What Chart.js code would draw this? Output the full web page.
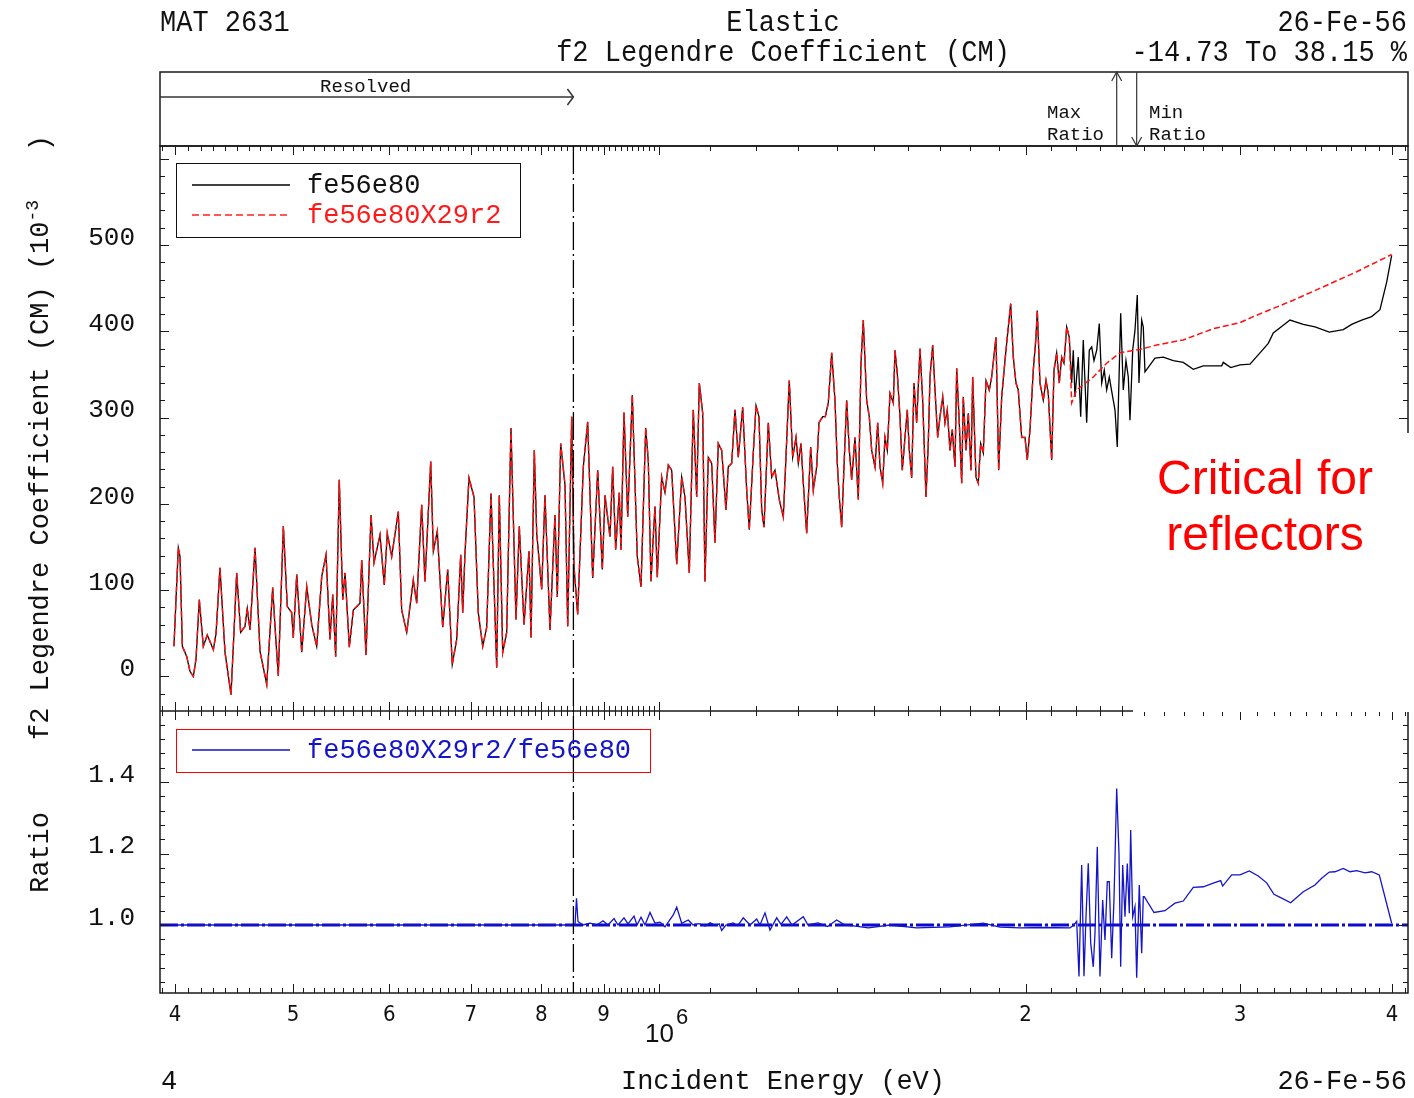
<!DOCTYPE html>
<html>
<head>
<meta charset="utf-8">
<script src="https://cdn.jsdelivr.net/npm/chart.js@4.4.1/dist/chart.umd.min.js"></script>
<style>
html,body{margin:0;padding:0;background:#fff;}
#wrap{position:relative;width:1414px;height:1098px;overflow:hidden;background:#fff;}
#c{position:absolute;left:0;top:0;}
.t{position:absolute;font-family:'Liberation Mono','DejaVu Sans Mono',monospace;color:#111;white-space:pre;line-height:1;font-size:27px;}
.big{transform:scale(1,1.08);}
.small{font-size:19px;}
sup{font-size:18px;line-height:0;vertical-align:0.55em;}
#cover{position:absolute;left:1133px;top:433px;width:280px;height:279px;background:#fff;}
.lg{position:absolute;box-sizing:border-box;}
#crit{position:absolute;left:1115px;top:450px;width:300px;text-align:center;font-family:'Liberation Sans',Arial,sans-serif;font-size:48px;line-height:56px;color:#ff0000;}
#overlay{position:absolute;left:0;top:0;pointer-events:none;}
</style>
</head>
<body>
<div id="wrap">
<canvas id="c" width="1414" height="1098" style="width:1414px;height:1098px"></canvas>
<div id="cover"></div>
<svg id="overlay" width="1414" height="1098">
  <line x1="192" y1="185" x2="290" y2="185" stroke="#000" stroke-width="1.3"/>
  <line x1="192" y1="215" x2="290" y2="215" stroke="#ff2020" stroke-width="1.4" stroke-dasharray="7 4"/>
  <line x1="192" y1="750" x2="290" y2="750" stroke="#1414c8" stroke-width="1.4"/>
</svg>
<div class="lg" style="left:176px;top:163px;width:345px;height:75px;border:1.5px solid #111;"></div>
<div class="lg" style="left:176px;top:729px;width:475px;height:44px;border:1.5px solid #ff0000;"></div>
<div class="t" style="left:307px;top:173px;">fe56e80</div>
<div class="t" style="left:307px;top:203px;color:#ff1a1a;">fe56e80X29r2</div>
<div class="t" style="left:307px;top:738px;color:#1414c8;">fe56e80X29r2/fe56e80</div>

<div class="t big" style="left:160px;top:10px;">MAT 2631</div>
<div class="t big" style="left:583px;top:10px;width:400px;text-align:center;">Elastic</div>
<div class="t big" style="right:7px;top:10px;">26-Fe-56</div>
<div class="t big" style="left:483px;top:40px;width:600px;text-align:center;">f2 Legendre Coefficient (CM)</div>
<div class="t big" id="rangeText" style="right:7px;top:40px;"></div>

<div class="t small" style="left:320px;top:78px;">Resolved</div>
<div class="t small" style="left:1047px;top:104px;">Max</div>
<div class="t small" style="left:1047px;top:126px;">Ratio</div>
<div class="t small" style="left:1149px;top:104px;">Min</div>
<div class="t small" style="left:1149px;top:126px;">Ratio</div>

<div class="t" style="left:28px;top:740px;transform:rotate(-90deg);transform-origin:0 0;">f2 Legendre Coefficient (CM) (10<sup>-3</sup>   )</div>
<div class="t" style="left:28px;top:893px;transform:rotate(-90deg);transform-origin:0 0;">Ratio</div>

<div class="t" style="left:645px;top:1020px;font-family:'Liberation Sans',Arial,sans-serif;font-size:26px;">10</div>
<div class="t" style="left:676px;top:1006px;font-family:'Liberation Sans',Arial,sans-serif;font-size:22px;">6</div>

<div class="t" style="left:161px;top:1069px;">4</div>
<div class="t" style="left:483px;top:1069px;width:600px;text-align:center;">Incident Energy (eV)</div>
<div class="t" style="right:7px;top:1069px;">26-Fe-56</div>

<div id="crit">Critical for<br>reflectors</div>
</div>

<script>
// ---------------- data (energies in keV, f2 in units of 1e-3) ----------------
// region where both evaluations coincide (resolved resonances + lower URR)
const energyShared = [
399.2,402.5,403.8,405.6,409.0,411.5,414.1,416.2,418.8,422.0,
425.2,430.1,432.3,435.5,439.7,444.7,447.2,449.5,452.9,456.6,
458.6,461.0,465.4,469.8,475.8,481.2,483.3,486.3,491.0,494.7,
498.8,500.3,503.6,508.4,513.2,518.1,523.0,528.0,532.3,536.3,
539.1,542.1,545.8,549.4,551.8,556.3,560.5,567.6,569.5,574.1,
579.6,582.9,589.5,594.3,597.7,602.7,610.3,614.2,620.1,627.9,
631.9,637.9,641.9,648.9,652.1,657.0,663.8,670.1,675.9,681.6,
686.8,689.4,692.4,697.6,704.3,710.0,716.0,721.4,727.3,735.2,
738.8,743.6,749.2,755.3,762.5,767.3,774.2,781.5,784.5,789.4,
793.0,800.5,805.5,813.2,820.9,824.5,829.8,836.6,840.9,847.3,
851.0,856.9,866.1,873.3,881.6,890.0,897.8,902.4,910.9,915.6,
920.8,927.1,930.1,935.4,942.0,950.2,959.2,966.0,974.6,979.4,
984.4,988.7,991.9,996.2,1004.5,1010.8,1017.2,1023.7,1033.5,1043.3,
1049.8,1058.4,1066.4,1073.3,1078.6,1085.6,1090.3,1097.1,1104.2,1111.1,
1118.1,1125.3,1134.5,1139.4,1146.8,1154.0,1161.2,1170.9,1179.8,1185.6,
1194.6,1200.8,1207.6,1213.8,1219.1,1229.0,1237.0,1244.7,1254.9,1264.4,
1270.2,1278.8,1287.1,1295.2,1300.8,1307.5,1313.2,1321.6,1331.7,1338.3,
1346.9,1352.8,1362.3,1369.0,1376.8,1385.7,1394.3,1400.4,1405.7,1412.1,
1418.3,1425.5,1432.6,1439.1,1448.1,1457.2,1464.6,1471.0,1480.5,1487.8,
1494.6,1504.0,1511.7,1518.3,1526.0,1532.7,1539.4,1547.3,1557.0,1562.0,
1568.8,1576.8,1583.7,1591.8,1598.7,1604.8,1612.1,1619.1,1627.4,1637.6,
1646.0,1656.3,1663.5,1668.9,1677.4,1684.8,1693.4,1700.8,1709.5,1716.9,
1724.4,1733.3,1740.8,1749.7,1755.4,1764.0,1772.0,1777.4,1786.5,1794.3,
1803.5,1809.3,1820.6,1828.6,1836.9,1846.0,1855.4,1867.0,1875.5,1890.9,
1900.5,1911.4,1923.3,1933.2,1944.2,1953.8,1963.8,1972.3,1985.1,1997.5,
2006.2,2016.5,2029.1,2039.5,2044.5,2055.0,2067.9,2078.5,2087.5,2101.0,
2110.2,2121.0,2131.4,2141.1,2150.5,2161.5,2172.1
];
const f2Shared = [
35,149,139,35,23,6,0,20,89,35,
48,31,50,126,28,-21,51,120,51,58,
79,54,149,29,-9,103,58,1,174,81,
74,45,118,28,104,60,35,116,141,43,
95,23,228,89,120,34,77,85,135,25,
187,132,164,106,166,139,191,77,51,112,
85,199,110,249,145,168,57,124,14,43,
141,74,143,230,208,74,35,57,212,10,
210,28,51,288,66,174,60,145,45,262,
166,101,210,54,187,92,270,222,58,301,
127,72,243,295,114,239,124,210,162,243,
147,213,147,306,185,326,139,104,288,250,
110,162,197,115,231,213,245,239,130,231,
208,120,309,208,340,305,110,254,247,155,
270,262,193,243,247,309,254,312,216,170,
259,314,301,193,173,294,231,239,205,185,
247,343,254,277,247,270,224,166,266,216,
243,294,301,301,317,375,320,247,208,173,
243,320,262,228,277,205,363,413,320,301,
262,243,294,243,224,277,262,328,317,378,
351,301,239,277,309,262,230,340,294,380,
320,208,270,347,384,332,277,301,324,294,
309,262,286,243,357,294,224,324,262,305,
239,347,231,224,270,259,343,332,347,393,
239,324,366,398,432,370,340,332,277,277,
251,286,355,393,424,340,320,343,328,251,
355,375,340,370,363,405,393
];
// fe56e80 beyond the shared region
const energyBlackTail = [
2182.0,2188.6,2195.7,2209.4,2219.5,2230.4,2244.8,2255.9,2266.2,2276.1,
2287.7,2299.0,2309.5,2320.8,2331.4,2342.9,2358.0,2368.3,2378.6,2394.0,
2405.8,2418.1,2428.7,2436.5,2449.0,2459.6,2470.4,2478.3,2491.0,2498.6,
2506.6,2554.5,2594.9,2644.5,2695.0,2746.5,2798.9,2898.1,2906.9,2947.9,
3000.2,3057.5,3115.9,3165.2,3195.3,3256.3,3297.9,3381.9,3457.6,3552.4,
3647.8,3706.2,3777.0,3849.1,3910.1,3959.9,3997.6
];
const f2BlackTail = [
340,378,324,370,301,390,294,378,382,366,
378,409,340,355,332,347,324,309,266,421,
332,366,347,297,378,401,442,340,413,405,
353,369,370,366,364,356,360,360,364,358,
361,362,375,386,398,407,413,408,405,399,
402,408,413,417,425,457,488
];
// fe56e80X29r2 beyond the shared region
const energyRedTail = [2182.0,2202.8,2273.0,2331.4,2390.8,2483.0,2562.7,2695.0,2852.4,3000.2,3076.6,3318.5,3557.1,3741.4,3997.6];
const f2RedTail     = [317,332,347,363,375,379,384,390,403,410,417,436,455,469,489];

// ratio fe56e80X29r2 / fe56e80
const energyRatio = [
400,849.4,852.6,855.0,857.4,865.6,877.1,888.8,899.0,907.5,
917.9,924.8,935.4,942.5,953.3,958.7,966.0,973.3,982.6,991.9,
1001.3,1010.8,1026.8,1033.5,1043.3,1056.4,1065.8,1078.0,1090.5,1101.0,
1112.0,1120.0,1125.3,1134.5,1150.0,1160.0,1172.2,
1187.2,1202.3,1209.9,1221.4,1233.0,1248.7,1258.9,1272.6,1285.4,1313.2,
1324.9,1350.0,1375.0,1398.8,1421.0,1450.0,1485.0,1547.3,1627.4,1733.3,1846.0,1905.2,1978.7,
2074.5,2175.0,2191.5,2202.8,2212.4,2223.7,2233.4,2241.9,2251.6,2261.9,
2273.0,2280.4,2290.3,2302.0,2313.8,2323.9,2334.1,2342.9,2353.6,2363.8,
2376.0,2386.3,2394.0,2403.1,2413.5,2424.1,2433.3,2439.7,2449.0,2459.6,
2467.6,2479.7,2491.0,2498.6,2503.3,2549.7,2603.3,2653.0,2695.0,2746.5,
2798.9,2852.4,2892.6,2903.6,2953.4,3000.2,3053.4,3105.9,3155.6,3199.5,
3246.5,3302.2,3381.9,3457.6,3501.7,3552.4,3590.9,3647.8,3694.3,3741.4,
3800.7,3849.1,3904.9,3997.6
];
const ratioValues = [
1.0,1.0,1.0,1.075,1.01,1.0,1.005,1.0,1.012,1.0,
1.018,1.0,1.02,1.003,1.025,1.0,1.022,1.0,1.035,1.005,
1.008,0.995,1.028,1.05,1.005,1.014,1.0,1.004,0.997,1.006,
0.999,1.003,0.985,1.0,1.006,0.998,1.02,
1.0,1.017,1.0,1.034,0.986,1.02,1.002,1.023,1.0,1.023,
1.0,1.006,0.996,1.014,1.0,0.997,0.992,1.0,0.992,0.995,1.005,0.994,0.992,
0.993,0.992,1.0,1.01,0.856,1.168,0.857,1.023,1.173,0.95,
0.883,0.977,1.219,0.856,1.07,0.958,1.121,1.121,0.907,1.07,
1.3815,1.2,0.883,1.168,1.023,1.172,1.033,1.266,1.023,1.051,
0.8527,1.112,0.921,1.079,1.079,1.035,1.04,1.061,1.067,1.105,
1.107,1.117,1.124,1.109,1.14,1.14,1.151,1.137,1.118,1.086,
1.075,1.062,1.093,1.112,1.131,1.148,1.149,1.158,1.149,1.152,
1.146,1.149,1.14,1.005
];
const ratioUnity = 1.0;
const resolvedLimitKeV = 850;   // upper end of resolved resonance range

// ticks
const xTickValues = [4e5,5e5,6e5,7e5,8e5,9e5,1e6,2e6,3e6,4e6];
const xTickLabels = ['4','5','6','7','8','9','','2','3','4'];
const f2TickValues = [0,100,200,300,400,500];
const f2TickLabels = ['0','100','200','300','400','500'];
const ratioTickValues = [1.0,1.2,1.4];
const ratioTickLabels = ['1.0','1.2','1.4'];

// axis limits
const X_MIN = 388800, X_MAX = 4123000;
const F2_MIN = -40, F2_MAX = 614.7;
const R_MIN = 0.8098, R_MAX = 1.5986;

// ---------------- build ----------------
const toPts = (es, vs) => es.map((e, i) => ({x: e * 1000, y: vs[i]}));
const blackData = toPts(energyShared.concat(energyBlackTail), f2Shared.concat(f2BlackTail));
const redData   = toPts(energyShared.concat(energyRedTail), f2Shared.concat(f2RedTail));
const ratioData = toPts(energyRatio, ratioValues);
const unityData = [{x: X_MIN, y: ratioUnity}, {x: X_MAX, y: ratioUnity}];

const rMin = Math.min(...ratioValues), rMax = Math.max(...ratioValues);
document.getElementById('rangeText').textContent =
  ((rMin - 1) * 100).toFixed(2) + ' To ' + ((rMax - 1) * 100).toFixed(2) + ' %';
const maxRatioE = energyRatio[ratioValues.indexOf(rMax)] * 1000;
const minRatioE = energyRatio[ratioValues.indexOf(rMin)] * 1000;

const mono = "'Liberation Mono','DejaVu Sans Mono',monospace";
const narrow = "'Liberation Sans Narrow','DejaVu Sans Condensed','Liberation Sans',sans-serif";

function seg(ctx, x1, y1, x2, y2) { ctx.beginPath(); ctx.moveTo(x1, y1); ctx.lineTo(x2, y2); ctx.stroke(); }

const decor = {
  id: 'decor',
  afterDraw(chart) {
    const {ctx, chartArea: ca, scales} = chart;
    const xs = scales.x, yu = scales.y, yl = scales.y2;
    const L = ca.left, R = ca.right, T = ca.top, B = ca.bottom, M = yu.bottom;
    const HT = 72;
    ctx.save();
    ctx.strokeStyle = '#1a1a1a';
    ctx.lineWidth = 1.5;
    ctx.strokeRect(L, T, R - L, B - T);
    seg(ctx, L, M, R, M);
    ctx.strokeRect(L, HT, R - L, T - HT);

    // x ticks
    ctx.lineWidth = 1;
    const xMinor = [];
    for (let k = 39; k <= 99; k++) xMinor.push(k * 1e4);
    for (let k = 10; k <= 41; k++) xMinor.push(k * 1e5);
    for (const v of xMinor) {
      if (v < X_MIN || v > X_MAX) continue;
      const px = Math.round(xs.getPixelForValue(v)) + 0.5;
      const len = xTickValues.includes(v) ? 9 : 5;
      seg(ctx, px, T, px, T + len);
      seg(ctx, px, M - len, px, M + len);
      seg(ctx, px, B - len, px, B);
    }
    // upper y ticks
    for (let v = -20; v <= 600; v += 20) {
      const py = Math.round(yu.getPixelForValue(v)) + 0.5;
      const len = v % 100 === 0 ? 9 : 5;
      seg(ctx, L, py, L + len, py);
      seg(ctx, R - len, py, R, py);
    }
    // lower y ticks
    for (let k = 21; k <= 39; k++) {
      const v = k * 0.04;
      const py = Math.round(yl.getPixelForValue(v)) + 0.5;
      const len = (k === 25 || k === 30 || k === 35) ? 9 : 5;
      seg(ctx, L, py, L + len, py);
      seg(ctx, R - len, py, R, py);
    }

    // resolved-range boundary (dash-dot)
    const xr = xs.getPixelForValue(resolvedLimitKeV * 1000);
    ctx.strokeStyle = '#000';
    ctx.lineWidth = 1.3;
    ctx.setLineDash([28, 4, 2, 4]);
    seg(ctx, xr, T, xr, B);
    ctx.setLineDash([]);

    // Resolved arrow
    ctx.strokeStyle = '#333';
    ctx.lineWidth = 1.5;
    seg(ctx, L, 97, xr, 97);
    ctx.beginPath(); ctx.moveTo(xr - 6, 89); ctx.lineTo(xr, 97); ctx.lineTo(xr - 6, 105); ctx.stroke();

    // Max / Min ratio arrows
    ctx.lineWidth = 1.2;
    const xmx = xs.getPixelForValue(maxRatioE);
    seg(ctx, xmx, T, xmx, HT);
    ctx.beginPath(); ctx.moveTo(xmx - 5, HT + 9); ctx.lineTo(xmx, HT); ctx.lineTo(xmx + 5, HT + 9); ctx.stroke();
    const xmn = xs.getPixelForValue(minRatioE);
    seg(ctx, xmn, HT, xmn, T);
    ctx.beginPath(); ctx.moveTo(xmn - 5, T - 9); ctx.lineTo(xmn, T); ctx.lineTo(xmn + 5, T - 9); ctx.stroke();
    ctx.restore();
  }
};

new Chart(document.getElementById('c'), {
  type: 'line',
  data: {
    datasets: [
      {label: 'fe56e80X29r2', data: redData, borderColor: '#ff1010', borderWidth: 1.5, borderDash: [6, 3], yAxisID: 'y', order: 0},
      {label: 'fe56e80', data: blackData, borderColor: '#000000', borderWidth: 1.3, yAxisID: 'y', order: 1},
      {label: 'fe56e80X29r2/fe56e80', data: ratioData, borderColor: '#1414c8', borderWidth: 1.3, yAxisID: 'y2', order: 2},
      {label: 'unity', data: unityData, borderColor: '#0a0ad0', borderWidth: 3, borderDash: [18, 3, 3, 3], yAxisID: 'y2', order: 3}
    ]
  },
  options: {
    responsive: false,
    animation: false,
    devicePixelRatio: 1,
    elements: {point: {radius: 0, hoverRadius: 0}, line: {tension: 0, fill: false}},
    plugins: {legend: {display: false}, tooltip: {enabled: false}},
    layout: {autoPadding: false, padding: {left: 0, top: 146, right: 6, bottom: 0}},
    scales: {
      x: {
        type: 'logarithmic', position: 'bottom', min: X_MIN, max: X_MAX,
        grid: {display: false}, border: {display: false},
        afterBuildTicks: s => { s.ticks = xTickValues.map(v => ({value: v})); },
        ticks: {autoSkip: false, maxRotation: 0, minRotation: 0, padding: 1, color: '#111',
                font: {family: narrow, size: 22}, callback: (v, i) => xTickLabels[i]},
        afterFit: s => { s.height = 105; }
      },
      y2: {
        type: 'linear', position: 'left', stack: 'panels', stackWeight: 282, min: R_MIN, max: R_MAX,
        grid: {display: false}, border: {display: false},
        afterBuildTicks: s => { s.ticks = ratioTickValues.map(v => ({value: v})); },
        ticks: {padding: 17, labelOffset: -7, color: '#111', font: {family: mono, size: 26},
                callback: (v, i) => ratioTickLabels[i]},
        afterFit: s => { s.width = 160; }
      },
      y: {
        type: 'linear', position: 'left', stack: 'panels', stackWeight: 565, min: F2_MIN, max: F2_MAX,
        grid: {display: false}, border: {display: false},
        afterBuildTicks: s => { s.ticks = f2TickValues.map(v => ({value: v})); },
        ticks: {padding: 17, labelOffset: -7, color: '#111', font: {family: mono, size: 26},
                callback: (v, i) => f2TickLabels[i]},
        afterFit: s => { s.width = 160; }
      }
    }
  },
  plugins: [decor]
});
</script>
</body>
</html>
